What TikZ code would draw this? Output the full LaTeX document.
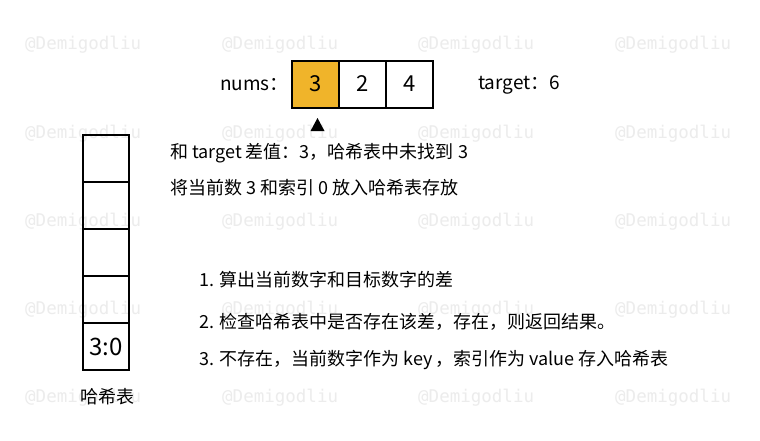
\documentclass[tikz,border=0pt]{standalone}
\usepackage{fontspec}
\setmainfont{Noto Sans CJK SC}
\newfontfamily\wmfont{DejaVu Sans Mono}
\definecolor{hlorange}{RGB}{240,180,42}
\definecolor{wmgray}{RGB}{236,236,236}
\begin{document}
\begin{tikzpicture}[x=1pt,y=-1pt,
  cellbox/.style={draw=black,line width=2pt,minimum width=47pt,minimum height=47pt,inner sep=0pt,font=\fontsize{22}{24}\selectfont},
  hashcell/.style={draw=black,line width=2pt,minimum width=46pt,minimum height=47pt,inner sep=0pt,font=\fontsize{24}{26}\selectfont},
  txt/.style={inner sep=0pt,anchor=west,font=\fontsize{18}{20}\selectfont},
  lbl/.style={inner sep=0pt,anchor=west,font=\fontsize{19}{21}\selectfont},
  wmark/.style={inner sep=0pt,anchor=west,text=wmgray,font=\wmfont\fontsize{17.5}{19}\selectfont}]
\useasboundingbox (0,0) rectangle (760,440);
\fill[white] (0,0) rectangle (760,440);
% watermarks
\foreach \r [count=\i] in {45,133.5,222,310,398}{
  \foreach \c [count=\j] in {25,222,418,615}{
    \node[wmark] (wm\i\j) at (\c,\r) {@Demigodliu};
  }
}
% array
\node[lbl] (nums) at (220,85) {nums：};
\node[cellbox,fill=hlorange] (c0) at (315.5,84) {3};
\node[cellbox] (c1) at (362.5,84) {2};
\node[cellbox] (c2) at (409.5,84) {4};
\node[lbl] (target) at (478,85) {target：6};
% pointer
\coordinate (ptr) at (317.5,118);
\fill[black] (ptr) -- ++(7,13) -- ++(-14,0) -- cycle;
% hash table
\node[hashcell] (h1) at (106,158.5) {};
\node[hashcell] (h2) at (106,205.5) {};
\node[hashcell] (h3) at (106,252.5) {};
\node[hashcell] (h4) at (106,299.5) {};
\node[hashcell] (h5) at (106,346.5) {3:0};
\node[txt] (hname) at (80,397) {哈希表};
% description
\node[txt] (d1) at (170,153) {和 target 差值：3，哈希表中未找到 3};
\node[txt] (d2) at (170,188) {将当前数 3 和索引 0 放入哈希表存放};
% steps
\node[txt] (s1) at (199,280) {1. 算出当前数字和目标数字的差};
\node[txt] (s2) at (199,322) {2. 检查哈希表中是否存在该差，存在，则返回结果。};
\node[txt] (s3) at (199,360) {3. 不存在，当前数字作为 key\,，索引作为 value 存入哈希表};
\end{tikzpicture}
\end{document}
